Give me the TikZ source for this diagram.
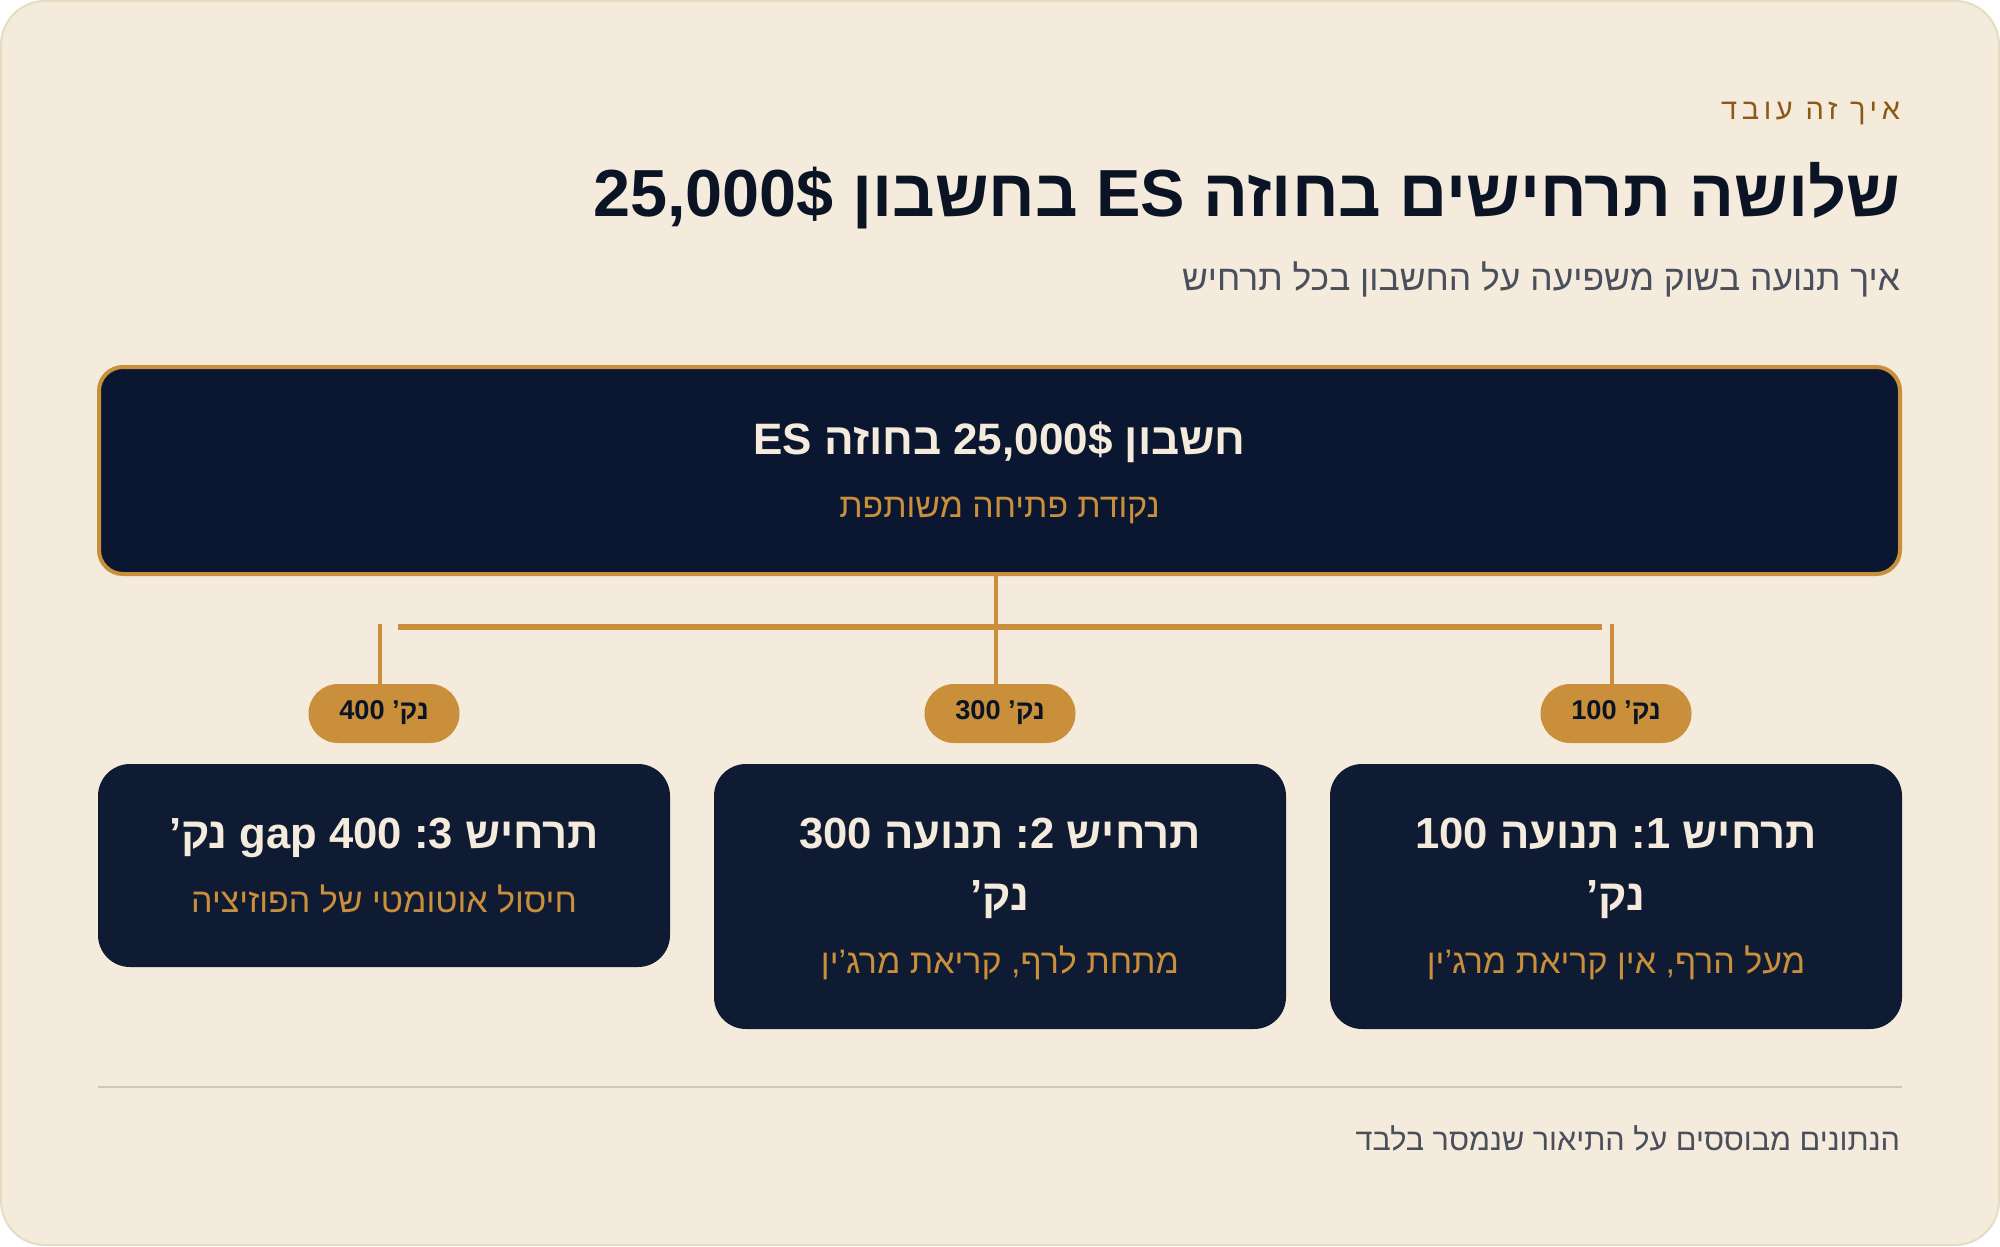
\documentclass[tikz,border=0pt]{standalone}
\usepackage{fontspec}
\TeXXeTstate=1
\newfontfamily\hb[Script=Hebrew]{Liberation Sans}
\newfontfamily\hbsp[Script=Hebrew,LetterSpace=16]{Liberation Sans}
\definecolor{bgc}{HTML}{F4EBDC}
\definecolor{cardline}{HTML}{E6DCC2}
\definecolor{brownc}{HTML}{8B5A16}
\definecolor{inkc}{HTML}{0B1424}
\definecolor{greyc}{HTML}{4A4F5C}
\definecolor{navytop}{HTML}{0B1730}
\definecolor{navybox}{HTML}{0F1B33}
\definecolor{goldc}{HTML}{C98F3A}
\definecolor{creamc}{HTML}{F4EBDC}
\definecolor{rulec}{HTML}{CFC8B9}
\tikzset{
  cardbox/.style={draw=none, fill=navybox, rounded corners=16pt, inner sep=0pt, outer sep=0pt, minimum width=286pt},
  topbox/.style={draw=goldc, line width=2pt, fill=navytop, rounded corners=12pt, inner sep=0pt, outer sep=0pt, minimum width=900.5pt, minimum height=103.5pt},
  pillbox/.style={fill=goldc, rounded corners=14.75pt, inner sep=0pt, outer sep=0pt, minimum width=75.5pt, minimum height=29.5pt},
  conn/.style={draw=goldc, line width=2.4pt},
  barline/.style={draw=goldc, line width=3pt},
  txt/.style={inner sep=0pt, outer sep=0pt, anchor=base},
  rtxt/.style={inner sep=0pt, outer sep=0pt, anchor=base east},
  boxtitle/.style={txt, text=creamc, font=\hb\bfseries\fontsize{21.8}{26}\selectfont},
  boxsub/.style={txt, text=goldc, font=\hb\fontsize{17}{20}\selectfont},
  pilltext/.style={txt, text=inkc, font=\hb\bfseries\fontsize{13.6}{16}\selectfont},
}
\begin{document}
\frenchspacing
\begin{tikzpicture}[x=0.5pt, y=-0.5pt]
\useasboundingbox (0,0) rectangle (2000,1246);
\fill[white] (0,0) rectangle (2000,1246);
\draw[fill=bgc, draw=cardline, line width=1pt, rounded corners=22pt] (1,1) rectangle (1999,1245);

% header
\node[rtxt, text=brownc, font=\hbsp\fontsize{14.5}{17}\selectfont] (eyebrow) at (1900,120) {\beginR איך זה עובד\endR};
\node[rtxt, text=inkc, font=\hb\bfseries\fontsize{33.3}{40}\selectfont] (title) at (1900,217) {\beginR שלושה תרחישים בחוזה \beginL ES\endL{} בחשבון \beginL 25,000\$\endL\endR};
\node[rtxt, text=greyc, font=\hb\fontsize{17.7}{21}\selectfont] (subtitle) at (1900,290) {\beginR איך תנועה בשוק משפיעה על החשבון בכל תרחיש\endR};

% top box
\node[topbox] (top) at (999.5,470.5) {};
\node[txt, text=creamc, font=\hb\bfseries\fontsize{22}{26}\selectfont] (topt) at (999.5,454) {\beginR חשבון \beginL 25,000\$\endL{} בחוזה \beginL ES\endL\endR};
\node[txt, text=goldc, font=\hb\fontsize{16.9}{20}\selectfont] (tops) at (999.5,517) {\beginR נקודת פתיחה משותפת\endR};

% pills
\node[pillbox] (p3) at (384,713.5) {};
\node[pillbox] (p2) at (1000,713.5) {};
\node[pillbox] (p1) at (1616,713.5) {};
\node[pilltext] (p3t) at (384,719) {\beginR נק’ \beginL 400\endL\endR};
\node[pilltext] (p2t) at (1000,719) {\beginR נק’ \beginL 300\endL\endR};
\node[pilltext] (p1t) at (1616,719) {\beginR נק’ \beginL 100\endL\endR};

% connectors
\coordinate (hl) at (398,627);
\coordinate (hr) at (1602,627);
\coordinate (v3) at (380,624);
\coordinate (v1) at (1612,624);
\coordinate (mx) at (996,0);
\draw[conn] (top.south -| mx) -- (p2.north -| mx);
\draw[barline] (hl) -- (hr);
\draw[conn] (v3) -- (v3 |- p3.north);
\draw[conn] (v1) -- (v1 |- p1.north);

% scenario boxes
\node[cardbox, minimum height=101.5pt] (b3) at (384,865.5) {};
\node[cardbox, minimum height=132.5pt] (b2) at (1000,896.5) {};
\node[cardbox, minimum height=132.5pt] (b1) at (1616,896.5) {};

\node[boxtitle] (b1a) at (1616,848) {\beginR תרחיש \beginL 1\endL: תנועה \beginL 100\endL\endR};
\node[boxtitle] (b1b) at (1616,910) {\beginR נק’\endR};
\node[boxsub] (b1c) at (1616,973) {\beginR מעל הרף, אין קריאת מרג’ין\endR};

\node[boxtitle] (b2a) at (1000,848) {\beginR תרחיש \beginL 2\endL: תנועה \beginL 300\endL\endR};
\node[boxtitle] (b2b) at (1000,910) {\beginR נק’\endR};
\node[boxsub] (b2c) at (1000,973) {\beginR מתחת לרף, קריאת מרג’ין\endR};

\node[boxtitle] (b3a) at (384,848) {\beginR תרחיש \beginL 3\endL: \beginL gap 400\endL{} נק’\endR};
\node[boxsub] (b3c) at (384,912) {\beginR חיסול אוטומטי של הפוזיציה\endR};

% footer
\coordinate (fl) at (98,1087);
\coordinate (fr) at (1902,1087);
\draw[draw=rulec, line width=1pt] (fl) -- (fr);
\node[rtxt, text=greyc, font=\hb\fontsize{15.3}{18}\selectfont] (foot) at (1900,1150) {\beginR הנתונים מבוססים על התיאור שנמסר בלבד\endR};
\end{tikzpicture}
\end{document}
